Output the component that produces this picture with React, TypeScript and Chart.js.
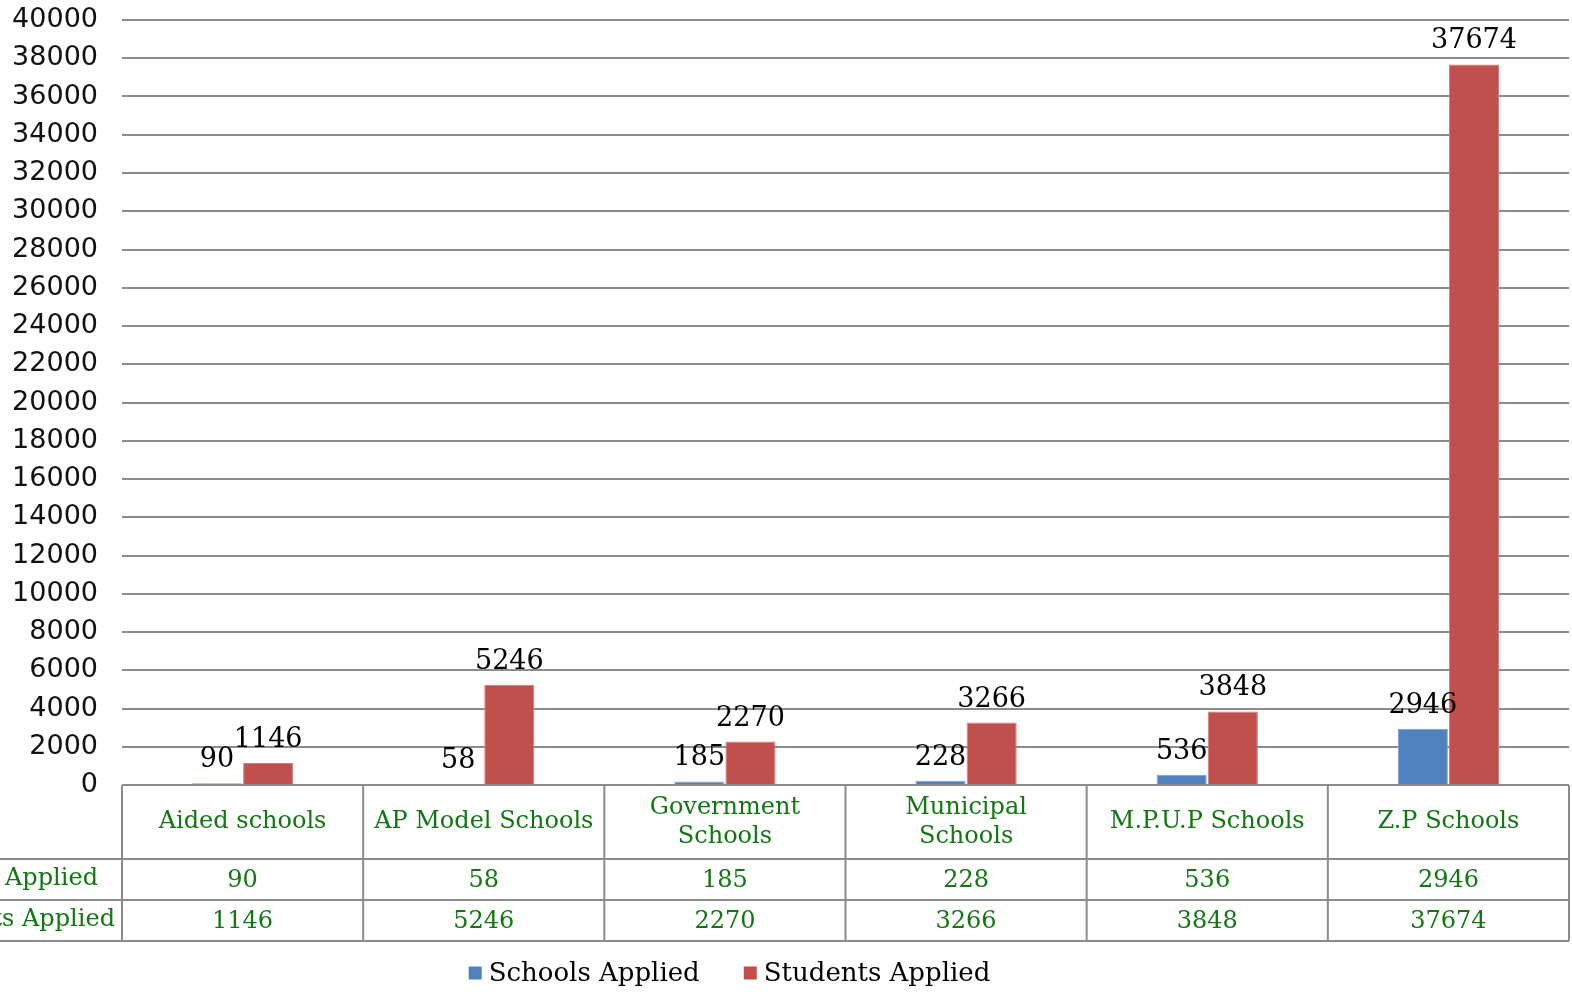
import React, { useEffect, useRef } from "react";
import { Chart, registerables } from "chart.js";

Chart.register(...registerables);

const categories: string[][] = [
  ["Aided schools"],
  ["AP Model Schools"],
  ["Government", "Schools"],
  ["Municipal", "Schools"],
  ["M.P.U.P Schools"],
  ["Z.P Schools"],
];
const schoolsApplied: number[] = [90, 58, 185, 228, 536, 2946];
const studentsApplied: number[] = [1146, 5246, 2270, 3266, 3848, 37674];
const seriesNames: string[] = ["Schools Applied", "Students Applied"];
const seriesColors: string[] = ["#4f81bd", "#c0504d"];

const SERIF = "'DejaVu Serif', serif";
const GREEN = "#117711";
const LINE = "#8c8c8c";

const tablePlugin = {
  id: "tablePlugin",
  afterDraw(chart: any) {
    const ctx = chart.ctx as CanvasRenderingContext2D;
    const area = chart.chartArea;
    const xs = chart.scales.x;
    const n = categories.length;
    const half = (xs.getPixelForValue(1) - xs.getPixelForValue(0)) / 2;
    const left = area.left;
    const right = area.right;
    const top = area.bottom;
    const r1 = top + 74;
    const r2 = r1 + 41;
    const r3 = r2 + 41;

    // data labels
    ctx.save();
    ctx.fillStyle = "#000";
    ctx.font = `27px ${SERIF}`;
    ctx.textAlign = "center";
    ctx.textBaseline = "alphabetic";
    chart.data.datasets.forEach((ds: any, di: number) => {
      const meta = chart.getDatasetMeta(di);
      meta.data.forEach((el: any, i: number) => {
        ctx.fillText(String(ds.data[i]), el.x, el.y - 16);
      });
    });
    ctx.restore();

    // table lines
    ctx.save();
    ctx.strokeStyle = LINE;
    ctx.lineWidth = 2;
    ctx.beginPath();
    ctx.moveTo(left, top);
    ctx.lineTo(right, top);
    ctx.moveTo(0, r1);
    ctx.lineTo(right, r1);
    ctx.moveTo(0, r2);
    ctx.lineTo(right, r2);
    ctx.moveTo(0, r3);
    ctx.lineTo(right, r3);
    for (let i = 0; i <= n; i++) {
      const x = i < n ? xs.getPixelForValue(i) - half : xs.getPixelForValue(n - 1) + half;
      ctx.moveTo(x, top);
      ctx.lineTo(x, r3);
    }
    ctx.stroke();

    // table text
    ctx.fillStyle = GREEN;
    ctx.font = `24px ${SERIF}`;
    ctx.textAlign = "center";
    ctx.textBaseline = "middle";
    for (let i = 0; i < n; i++) {
      const cx = xs.getPixelForValue(i);
      const lines = categories[i];
      const mid = (top + r1) / 2;
      lines.forEach((ln, li) => {
        const y = mid + (li - (lines.length - 1) / 2) * 29;
        ctx.fillText(ln, cx, y);
      });
      ctx.fillText(String(schoolsApplied[i]), cx, (r1 + r2) / 2 + 1);
      ctx.fillText(String(studentsApplied[i]), cx, (r2 + r3) / 2 + 1);
    }
    // row labels (cells extend past the left edge)
    ctx.textAlign = "right";
    ctx.fillText(seriesNames[0], left - 24, (r1 + r2) / 2 - 1);
    ctx.fillText(seriesNames[1], left - 7, (r2 + r3) / 2 - 1);

    // legend
    ctx.font = `26px ${SERIF}`;
    ctx.textAlign = "left";
    ctx.textBaseline = "middle";
    const box = 13;
    const gap = 7;
    const itemGap = 44;
    const widths = seriesNames.map((s) => box + gap + ctx.measureText(s).width);
    const total = widths[0] + widths[1] + itemGap;
    let x = (left + right) / 2 - total / 2 - 116;
    const ly = 973;
    seriesNames.forEach((s, i) => {
      ctx.fillStyle = seriesColors[i];
      ctx.fillRect(x, ly - box / 2, box, box);
      ctx.fillStyle = "#000";
      ctx.fillText(s, x + box + gap, ly + 1);
      x += widths[i] + itemGap;
    });
    ctx.restore();
  },
};

export default function App() {
  const ref = useRef<HTMLCanvasElement | null>(null);
  useEffect(() => {
    if (!ref.current) return;
    const chart = new Chart(ref.current, {
      type: "bar",
      data: {
        labels: categories.map((c) => c.join(" ")),
        datasets: [
          {
            label: seriesNames[0],
            data: schoolsApplied,
            backgroundColor: seriesColors[0],
            borderColor: "#7ea3d3",
            borderWidth: 1,
            categoryPercentage: 0.424,
            barPercentage: 0.98,
          },
          {
            label: seriesNames[1],
            data: studentsApplied,
            backgroundColor: seriesColors[1],
            borderColor: "#d47b78",
            borderWidth: 1,
            categoryPercentage: 0.424,
            barPercentage: 0.98,
          },
        ],
      },
      options: {
        animation: false,
        responsive: false,
        maintainAspectRatio: false,
        layout: { padding: { left: 0, right: 3, top: 20, bottom: 210 } },
        plugins: { legend: { display: false }, tooltip: { enabled: false } },
        scales: {
          x: { display: false },
          y: {
            min: 0,
            max: 40000,
            ticks: {
              stepSize: 2000,
              padding: 24,
              color: "#111",
              font: { family: "'DejaVu Sans', sans-serif", size: 27 },
              callback: (v: any) => String(v),
            },
            grid: { color: LINE, lineWidth: 2, drawTicks: false },
            border: { display: false },
            afterFit: (s: any) => {
              s.width = 122;
              s.paddingTop = 0;
              s.paddingBottom = 0;
            },
          },
        },
      },
      plugins: [tablePlugin],
    });
    return () => chart.destroy();
  }, []);
  return (
    <div style={{ position: "fixed", left: 0, top: 0, width: 1572, height: 995, background: "#fff" }}>
      <canvas ref={ref} width={1572} height={995} style={{ width: 1572, height: 995 }} />
    </div>
  );
}
